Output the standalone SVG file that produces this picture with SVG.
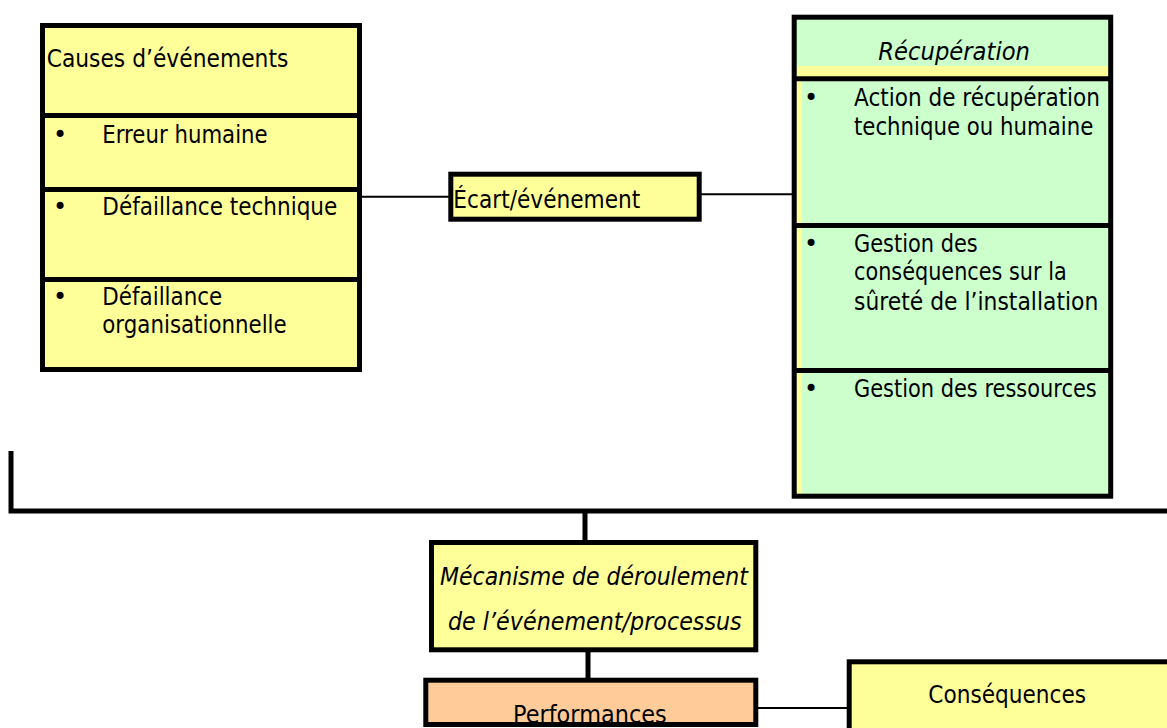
<svg xmlns="http://www.w3.org/2000/svg" width="1167" height="728" viewBox="0 0 1167 728">
<style>
.box{stroke:#000;stroke-width:5}
.nostroke{stroke:none}
.edge{fill:none;stroke:#000;stroke-width:5}
.yel{fill:#FFFF99}
.grn{fill:#CCFFCC}
.pch{fill:#FFCC99}
.t{font-family:"DejaVu Sans","Liberation Sans",sans-serif;font-size:24px;fill:#000}
.i{font-style:italic}
.b{text-anchor:middle}
.thin{fill:none;stroke:#000;stroke-width:2}
.thick{fill:none;stroke:#000;stroke-width:5}
</style>
<rect width="1167" height="728" fill="#fff"/>

<g id="connectors">
  <line class="thin" x1="360" y1="196.7" x2="450" y2="196.7"/>
  <line class="thin" x1="700" y1="194.3" x2="794" y2="194.3"/>
  <polyline class="thick" points="11,451 11,511 1167,511"/>
  <line class="thick" x1="585" y1="511" x2="585" y2="542"/>
  <line class="thick" x1="588" y1="650" x2="588" y2="680"/>
  <line class="thin" x1="756" y1="708" x2="849" y2="708"/>
</g>

<g id="causes">
  <rect class="box yel" x="42.5" y="25.5" width="317" height="344"/>
  <line class="thick" x1="42.5" y1="115.5" x2="359.5" y2="115.5"/>
  <line class="thick" x1="42.5" y1="189.5" x2="359.5" y2="189.5"/>
  <line class="thick" x1="42.5" y1="279.5" x2="359.5" y2="279.5"/>
  <text class="t" x="46.7" y="67.3" textLength="241.6" lengthAdjust="spacingAndGlyphs">Causes d’événements</text>
  <text class="t b" x="60" y="143">•</text>
  <text class="t" x="102.3" y="143" textLength="165.3" lengthAdjust="spacingAndGlyphs">Erreur humaine</text>
  <text class="t b" x="60" y="215">•</text>
  <text class="t" x="102.3" y="215" textLength="235" lengthAdjust="spacingAndGlyphs">Défaillance technique</text>
  <text class="t b" x="60" y="305">•</text>
  <text class="t" x="102.3" y="305" textLength="120" lengthAdjust="spacingAndGlyphs">Défaillance</text>
  <text class="t" x="102.3" y="333.3" textLength="184.4" lengthAdjust="spacingAndGlyphs">organisationnelle</text>
</g>

<g id="ecart">
  <rect class="box yel" x="450.8" y="174.2" width="248.4" height="45"/>
  <text class="t" x="453.3" y="208.3" textLength="187" lengthAdjust="spacingAndGlyphs">Écart/événement</text>
</g>

<g id="recuperation">
  <rect class="grn" x="794.2" y="17.2" width="316.5" height="479"/>
  <rect class="yel" x="796.7" y="66" width="311.5" height="12"/>
  <rect class="yel" x="796.7" y="78" width="5" height="416"/>
  <rect class="edge" x="794.2" y="17.2" width="316.5" height="479"/>
  <line class="thick" x1="794.2" y1="78.8" x2="1110.7" y2="78.8"/>
  <line class="thick" x1="794.2" y1="225.5" x2="1110.7" y2="225.5"/>
  <line class="thick" x1="794.2" y1="370.5" x2="1110.7" y2="370.5"/>
  <text class="t i" x="878.3" y="60" textLength="151.7" lengthAdjust="spacingAndGlyphs">Récupération</text>
  <text class="t b" x="811" y="106">•</text>
  <text class="t" x="854" y="106" textLength="246" lengthAdjust="spacingAndGlyphs">Action de récupération</text>
  <text class="t" x="854" y="135" textLength="239.3" lengthAdjust="spacingAndGlyphs">technique ou humaine</text>
  <text class="t b" x="811" y="251.7">•</text>
  <text class="t" x="854" y="251.7" textLength="123.7" lengthAdjust="spacingAndGlyphs">Gestion des</text>
  <text class="t" x="854" y="280" textLength="212.7" lengthAdjust="spacingAndGlyphs">conséquences sur la</text>
  <text class="t" x="854" y="310" textLength="244.3" lengthAdjust="spacingAndGlyphs">sûreté de l’installation</text>
  <text class="t b" x="811" y="396.7">•</text>
  <text class="t" x="854" y="396.7" textLength="242.7" lengthAdjust="spacingAndGlyphs">Gestion des ressources</text>
</g>

<g id="mecanisme">
  <rect class="box yel" x="431.5" y="542.5" width="324.3" height="107.3"/>
  <text class="t i" x="440" y="584.5" textLength="308" lengthAdjust="spacingAndGlyphs">Mécanisme de déroulement</text>
  <text class="t i" x="448" y="630" textLength="293.7" lengthAdjust="spacingAndGlyphs">de l’événement/processus</text>
</g>

<g id="performances">
  <rect class="pch" x="425.8" y="680.2" width="330" height="44.3"/>
  <text class="t" x="513" y="723" textLength="153.7" lengthAdjust="spacingAndGlyphs">Performances</text>
  <rect class="edge" x="425.8" y="680.2" width="330" height="44.3"/>
</g>

<g id="consequences">
  <rect class="box yel" x="849.2" y="661.8" width="330" height="90"/>
  <text class="t" x="928.3" y="703.3" textLength="157.7" lengthAdjust="spacingAndGlyphs">Conséquences</text>
</g>
</svg>
